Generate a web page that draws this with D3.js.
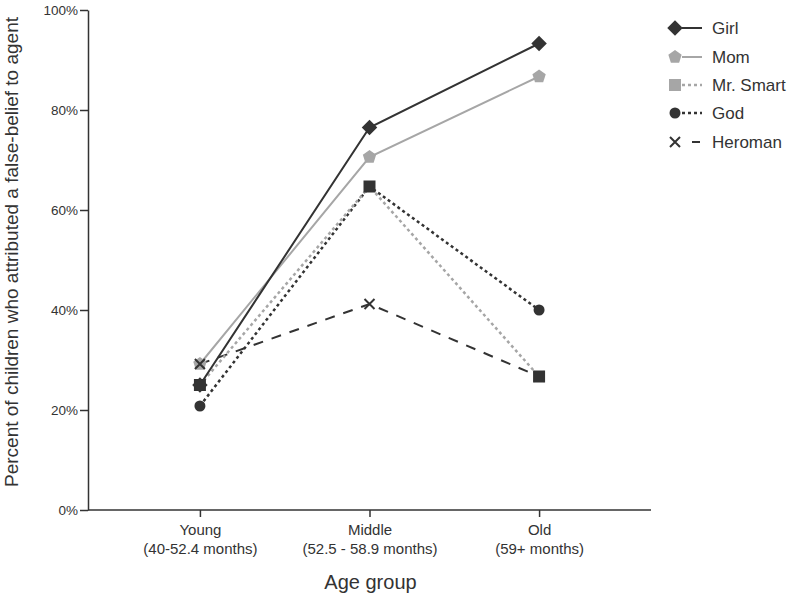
<!DOCTYPE html>
<html>
<head>
<meta charset="utf-8">
<title>False-belief attribution by age group</title>
<script src="https://d3js.org/d3.v7.min.js"></script>
<style>
  body { margin: 0; background: #fff; }
  svg { font-family: "Liberation Sans", Arial, sans-serif; }
  .axis path, .axis line { stroke: #333; stroke-width: 1.5px; }
  .axis text { fill: #333; font-size: 13.5px; }
</style>
</head>
<body>
<svg width="800" height="601"></svg>
<script>
// data
var groups = ["Young", "Middle", "Old"];
var groupSub = ["(40-52.4 months)", "(52.5 - 58.9 months)", "(59+ months)"];
var yTicks = [0, 20, 40, 60, 80, 100];

var girl     = [25.0, 76.5, 93.3];
var mom      = [29.2, 70.6, 86.7];
var mrSmart  = [25.0, 64.7, 26.7];
var god      = [20.8, 64.7, 40.0];
var heroman  = [29.2, 41.2, 26.7];

var seriesNames = ["Girl", "Mom", "Mr. Smart", "God", "Heroman"];
var seriesVals  = [girl, mom, mrSmart, god, heroman];

// styles per series
var styles = {
  "Girl":      {color: "#333", dash: null,    width: 2,   marker: "diamond", mfill: "#333"},
  "Mom":       {color: "#a6a6a6", dash: null, width: 2,   marker: "pentagon", mfill: "#a6a6a6"},
  "Mr. Smart": {color: "#a6a6a6", dash: "3,3", width: 2.5, marker: "square", mfill: "#333", lfill: "#a6a6a6"},
  "God":       {color: "#333", dash: "3,3",   width: 2.5, marker: "circle", mfill: "#333"},
  "Heroman":   {color: "#333", dash: "10,9",  width: 2,   marker: "x", mfill: "#333"}
};

var svg = d3.select("svg");
var plotL = 88, plotT = 10, plotR = 651, plotB = 510;

var x = d3.scalePoint().domain(groups).range([plotL, plotR]).padding(0.66);
var y = d3.scaleLinear().domain([0, 100]).range([plotB, plotT]);

// axes
var yAxis = svg.append("g").attr("class", "axis")
  .attr("transform", "translate(" + plotL + ",0)")
  .call(d3.axisLeft(y).tickValues(yTicks).tickSize(8).tickSizeOuter(0).tickFormat(function(d){ return d + "%"; }));
yAxis.selectAll("text").attr("x", -10);

var xAxis = svg.append("g").attr("class", "axis")
  .attr("transform", "translate(0," + plotB + ")")
  .call(d3.axisBottom(x).tickSize(7).tickSizeOuter(0).tickFormat(""));
xAxis.select(".domain").attr("d", "M" + plotL + ",0H" + plotR);

xAxis.selectAll(".tick").each(function(d, i){
  var t = d3.select(this).append("text").attr("text-anchor", "middle").attr("fill", "#333").style("font-size", "15px");
  t.append("tspan").attr("x", 0).attr("y", 25).text(d);
  t.append("tspan").attr("x", 0).attr("y", 44).text(groupSub[i]);
});

svg.append("text").attr("x", (plotL + plotR) / 2 + 1).attr("y", 589)
  .attr("text-anchor", "middle").attr("fill", "#333").style("font-size", "20px").text("Age group");

svg.append("text").attr("transform", "translate(18,252) rotate(-90)")
  .attr("text-anchor", "middle").attr("fill", "#333").style("font-size", "19px")
  .text("Percent of children who attributed a false-belief to agent");

// marker drawer
function marker(g, type, fill, cx, cy) {
  if (type === "diamond") {
    g.append("path").attr("d", d3.symbol(d3.symbolSquare, 120)()).attr("transform", "translate(" + cx + "," + cy + ") rotate(45)")
      .attr("fill", fill);
  } else if (type === "square") {
    g.append("rect").attr("x", cx - 6).attr("y", cy - 6).attr("width", 12).attr("height", 12).attr("fill", fill);
  } else if (type === "circle") {
    g.append("circle").attr("cx", cx).attr("cy", cy).attr("r", 5.5).attr("fill", fill);
  } else if (type === "pentagon") {
    var pts = d3.range(5).map(function(k){
      var a = -Math.PI / 2 + k * 2 * Math.PI / 5;
      return [cx + 7 * Math.cos(a), cy + 7 * Math.sin(a)];
    });
    g.append("polygon").attr("points", pts.join(" ")).attr("fill", fill);
  } else if (type === "x") {
    g.append("path").attr("d", "M" + (cx - 5) + "," + (cy - 5) + "L" + (cx + 5) + "," + (cy + 5) + "M" + (cx - 5) + "," + (cy + 5) + "L" + (cx + 5) + "," + (cy - 5))
      .attr("stroke", fill).attr("stroke-width", 2).attr("fill", "none");
  }
}

var line = d3.line().x(function(d, i){ return x(groups[i]); }).y(function(d){ return y(d); });

// lines first, Heroman at the back
var order = [4, 3, 2, 1, 0];
order.forEach(function(k){
  var name = seriesNames[k], s = styles[name];
  svg.append("path").datum(seriesVals[k]).attr("d", line)
    .attr("fill", "none").attr("stroke", s.color).attr("stroke-width", s.width)
    .attr("stroke-dasharray", s.dash);
});
// markers after: Mom, Heroman, God, Mr. Smart, Girl on top
[1, 4, 3, 2, 0].forEach(function(k){
  var s = styles[seriesNames[k]];
  var g = svg.append("g");
  seriesVals[k].forEach(function(v, i){ marker(g, s.marker, s.mfill, x(groups[i]), y(v)); });
});

// legend
var legendY = [28, 57, 85, 113, 142];
seriesNames.forEach(function(name, i){
  var s = styles[name];
  var g = svg.append("g");
  var ly = legendY[i];
  g.append("line").attr("x1", 682).attr("x2", 702).attr("y1", ly).attr("y2", ly)
    .attr("stroke", s.color).attr("stroke-width", s.width).attr("stroke-dasharray", name === "Heroman" ? "0,10,8,10" : s.dash);
  marker(g, s.marker, s.lfill || s.mfill, 675, ly);
  g.append("text").attr("x", 712).attr("y", ly + 6).attr("fill", "#333").style("font-size", "17px").text(name);
});
</script>
</body>
</html>
